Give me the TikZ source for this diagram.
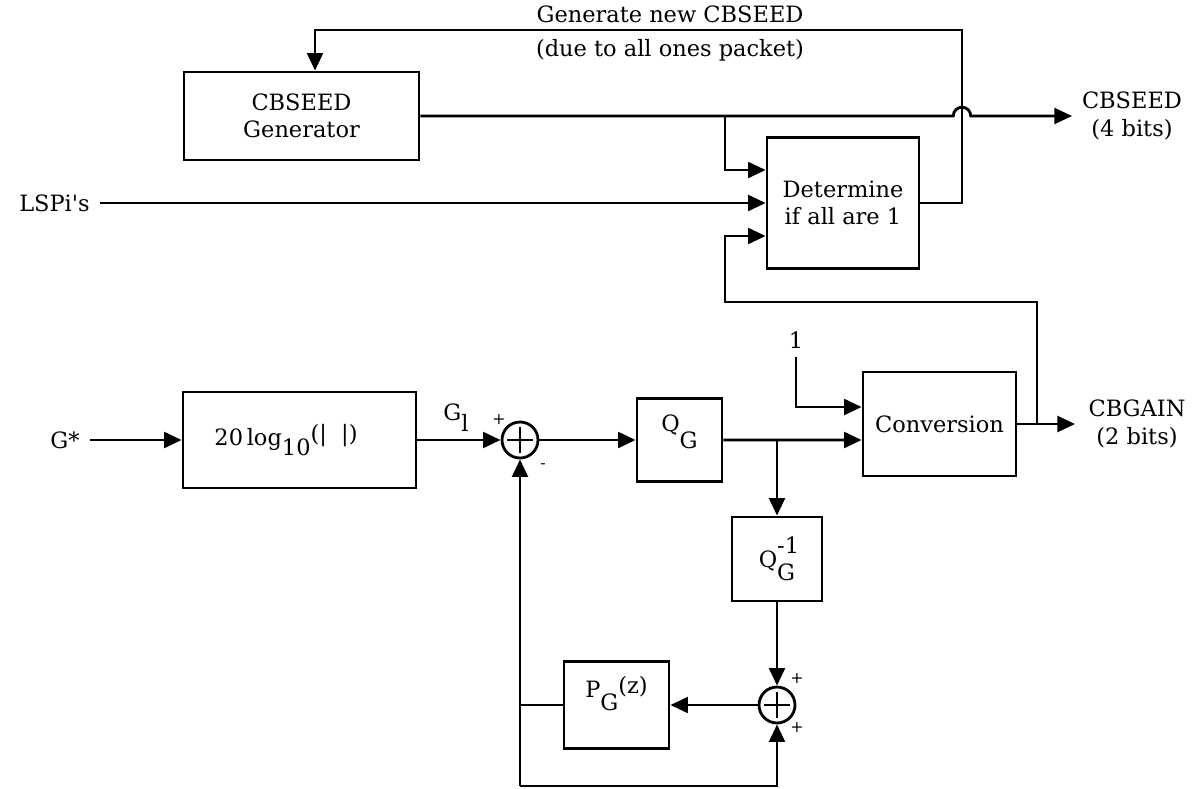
\documentclass[tikz,border=0pt]{standalone}
\usepackage{fontspec}
\setmainfont{DejaVu Serif}
\usetikzlibrary{arrows.meta,positioning}

\tikzset{
  sig/.style={line width=1.6pt},
  arr/.style={sig,-{Triangle[length=10pt,width=9pt]}},
  blk/.style={draw,line width=1.6pt,align=center,inner sep=0pt},
  summer/.style={draw,circle,line width=1.6pt,minimum size=0.72cm,inner sep=0pt,
    path picture={\draw[line width=1.6pt]
      ([xshift=-0.26cm]path picture bounding box.center) -- ([xshift=0.26cm]path picture bounding box.center)
      ([yshift=-0.26cm]path picture bounding box.center) -- ([yshift=0.26cm]path picture bounding box.center);}},
  lbl/.style={align=center,inner sep=0pt},
  sgn/.style={inner sep=0pt,font=\small}
}

\begin{document}
\begin{tikzpicture}[x=0.02cm,y=-0.02cm,font=\fontsize{12.8}{15.5}\selectfont]
  \useasboundingbox (0,0) rectangle (1196,788);
  % seed part
  \node[blk,minimum width=4.7cm,minimum height=1.76cm] (gen) at (301.5,116) {CBSEED\\Generator};
  \node[blk,minimum width=3.04cm,minimum height=2.62cm] (det) at (843,203) {Determine\\if all are 1};
  \node[lbl,anchor=east] (lsp) at (90,203) {LSPi\textquotesingle s};
  \node[lbl] (seed) at (1132,116) {CBSEED\\(4 bits)};
  \node[lbl] (gentxt) at (670,14) {Generate new CBSEED};
  \node[lbl] (duetxt) at (670,50) {(due to all ones packet)};
  \coordinate (lspend) at (100,203);
  \coordinate (tap) at (725,116);
  \coordinate (hop) at (962,116);
  \coordinate (seedend) at (1072,116);
  \coordinate (topright) at (962,30);
  \coordinate (topleft) at (315,30);
  \draw[arr] (gen.east) -- ([xshift=-5pt]hop) arc[start angle=180,end angle=0,radius=5pt] -- (seedend);
  \draw[arr] (tap) |- ([yshift=0.66cm]det.west);
  \draw[arr] (lspend) -- (det.west);
  \draw[arr] (det.east) -| (topright) -- (topleft) -- (topleft |- gen.north);
  % gain part
  \node[lbl] (gstar) at (65,440) {G*};
  \node[blk,minimum width=4.66cm,minimum height=1.92cm] (logb) at (299.5,440)
    {20\,log\raisebox{-0.45em}{10}\raisebox{0.15em}{(|\ \ |)}\hspace{1.2em}};
  \node[summer] (s1) at (520,440) {};
  \node[lbl] (gl) at (456,418) {G\raisebox{-0.5em}{l}};
  \node[sgn] (s1p) at (499,420) {+};
  \node[sgn] (s1m) at (543,466) {-};
  \node[blk,minimum width=1.7cm,minimum height=1.66cm] (qg) at (679.5,440)
    {Q\raisebox{-0.75em}{G}\\[0.3em]};
  \node[blk,minimum width=3.06cm,minimum height=2.08cm] (conv) at (939.5,424) {Conversion};
  \node[lbl] (one) at (796,340) {1};
  \node[lbl] (gain) at (1137,424) {CBGAIN\\(2 bits)};
  \node[blk,minimum width=1.8cm,minimum height=1.68cm] (qinv) at (777,559)
    {Q\rlap{\raisebox{0.6em}{-1}}\raisebox{-0.6em}{G}};
  \node[summer] (s2) at (777,705) {};
  \node[sgn] (s2a) at (797,679) {+};
  \node[sgn] (s2b) at (797,728) {+};
  \node[blk,minimum width=2.1cm,minimum height=1.74cm] (pg) at (616.5,705)
    {P\raisebox{-0.6em}{G}\raisebox{0.15em}{(z)}\\[0.4em]};
  \coordinate (gin) at (90,440);
  \coordinate (qtap) at (777,440);
  \coordinate (gtap) at (1037,424);
  \coordinate (gainend) at (1075,424);
  \coordinate (gleft) at (725,302);
  \coordinate (lcorner) at (520,705);
  \coordinate (bl) at (520,786);
  \coordinate (br) at (777,786);
  \draw[arr] (gin) -- (logb.west);
  \draw[arr] (logb.east) -- (s1.west);
  \draw[arr] (s1.east) -- (qg.west);
  \draw[arr] (qg.east) -- ([yshift=-0.32cm]conv.west);
  \draw[arr] (qtap) -- (qinv.north);
  \draw[arr] ([yshift=-5pt]one.south) |- ([yshift=0.34cm]conv.west);
  \draw[arr] (conv.east) -- (gainend);
  \draw[arr] (gtap) |- (gleft) |- ([yshift=-0.66cm]det.west);
  \draw[arr] (qinv.south) -- (s2.north);
  \draw[arr] (s2.west) -- (pg.east);
  \draw[sig] (pg.west) -- (lcorner);
  \draw[arr] (bl) -- (s1.south);
  \draw[arr] (bl) -- (br) -- (s2.south);
\end{tikzpicture}
\end{document}
